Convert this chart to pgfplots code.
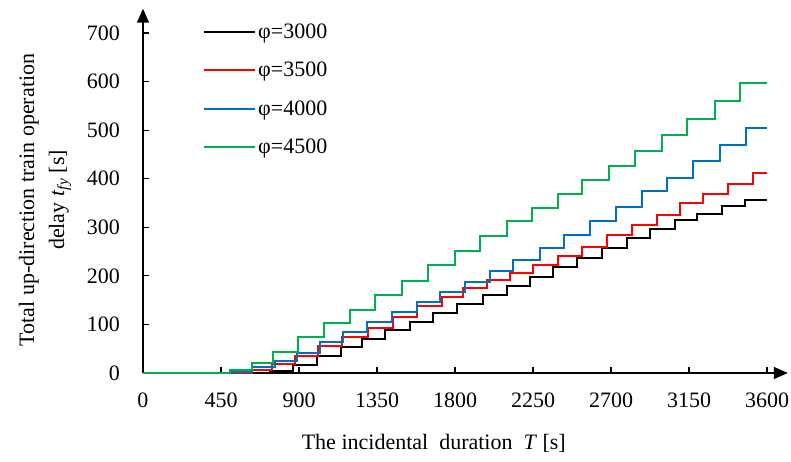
\documentclass[border=0pt]{standalone}
\usepackage{fontspec}
\setmainfont{Liberation Serif}
\usepackage{pgfplots}
\pgfplotsset{compat=1.18}
\usetikzlibrary{arrows.meta}
\definecolor{cgreen}{RGB}{0,176,80}
\definecolor{cblue}{RGB}{0,112,192}
\definecolor{cred}{RGB}{255,0,0}
\begin{document}
\begin{tikzpicture}
\begin{axis}[
  scale only axis, width=644.8pt, height=364.3pt,
  at={(0,0)}, anchor=south west,
  xmin=0, xmax=3720, ymin=0, ymax=750,
  axis x line=bottom, axis y line=left,
  axis line style={line width=1.6pt, -{Triangle[length=14pt,width=12pt]}},
  xtick={0,450,900,1350,1800,2250,2700,3150,3600},
  ytick={0,100,200,300,400,500,600,700},
  tick align=inside, major tick length=6pt,
  tick style={line width=1.2pt, black},
  font=\fontsize{22}{30}\selectfont,
  ticklabel style={font=\fontsize{22}{26}\selectfont},
  /pgf/number format/assume math mode=true,
  /pgf/number format/1000 sep={},
  xticklabel style={inner sep=0pt, yshift=-20pt},
  yticklabel style={inner sep=0pt, xshift=-23pt},
  xlabel={The incidental\ \ duration\ \ \textit{T} [s]},
  xlabel style={at={(axis description cs:0.451,-0.192)}, anchor=center},
  ylabel={Total up-direction\ train\ operation\\delay \textit{t}\textsubscript{\textit{fy}} [s]},
  ylabel style={at={(axis description cs:-0.152,0.475)}, anchor=center, align=center},
  legend style={at={(axis description cs:0.0884,0.969)}, anchor=north west,
    draw=none, fill=none, row sep=18pt, font=\fontsize{22}{26}\selectfont,
    nodes={inner sep=2pt}},
  legend cell align=left,
  legend image code/.code={\draw[#1] (0pt,0pt) -- (51pt,0pt);},
  every axis plot/.append style={line width=2pt, const plot},
  clip=false,
]
\addplot[black] coordinates {(0,0) (733,5) (868,16) (1005,34) (1140,53) (1262,71) (1396,88) (1540,106) (1675,124) (1810,143) (1963,161) (2098,179) (2233,198) (2367,218) (2502,236) (2646,257) (2790,277) (2925,296) (3069,314) (3194,328) (3338,343) (3473,357) (3600,357)};
\addlegendentry{φ=3000}
\addplot[cred] coordinates {(0,0) (627,6) (742,18) (877,34) (1012,56) (1150,75) (1300,92) (1444,115) (1579,137) (1723,156) (1848,174) (1983,191) (2117,205) (2252,222) (2396,241) (2531,260) (2675,284) (2819,305) (2963,326) (3098,349) (3233,368) (3377,389) (3521,411) (3600,411)};
\addlegendentry{φ=3500}
\addplot[cblue] coordinates {(0,0) (502,3) (627,12) (762,25) (887,42) (1021,64) (1156,85) (1290,106) (1435,126) (1579,147) (1713,167) (1858,187) (2002,211) (2137,233) (2290,257) (2429,284) (2579,312) (2729,341) (2877,374) (3021,402) (3175,437) (3329,469) (3479,504) (3600,504)};
\addlegendentry{φ=4000}
\addplot[cgreen] coordinates {(0,0) (502,6) (627,20) (752,44) (896,74) (1045,102) (1194,130) (1338,160) (1492,190) (1646,222) (1800,252) (1944,283) (2098,312) (2242,339) (2396,368) (2531,397) (2690,427) (2838,457) (2992,489) (3140,522) (3300,559) (3444,597) (3600,597)};
\addlegendentry{φ=4500}
\end{axis}
\pgfresetboundingbox
\path (-143pt,-88pt) rectangle (648pt,373pt);
\end{tikzpicture}
\end{document}
